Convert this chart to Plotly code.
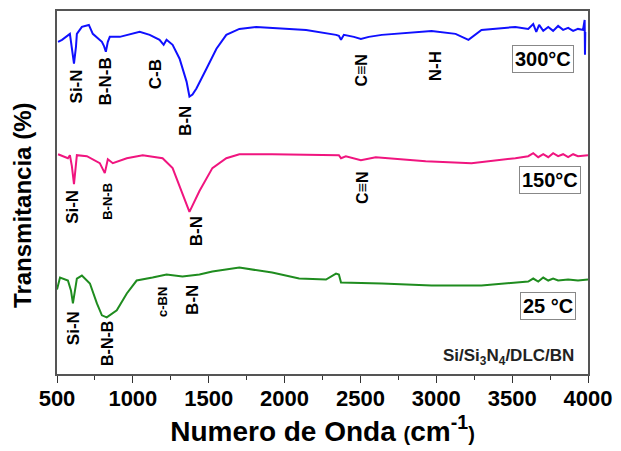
import plotly.graph_objects as go

# ---- data (wavenumber cm^-1, relative transmittance, arbitrary offset units) ----
wn_300 = [507, 533, 585, 598, 612, 625, 631, 664, 710, 736, 796, 809, 822, 835, 848, 914,
          1045, 1111, 1176, 1203, 1222, 1262, 1308, 1354, 1373, 1393, 1419, 1485, 1551, 1616,
          1702, 1813, 2142, 2339, 2358, 2372, 2391, 2457, 2503, 2555, 2641, 2969, 3127, 3212,
          3298, 3521, 3606, 3639, 3659, 3678, 3705, 3738, 3770, 3803, 3836, 3869, 3902, 3934,
          3967, 3978, 3980, 3982]
t_300 = [334, 336, 342, 329, 312, 329, 342, 349, 351, 342, 334, 330, 324, 334, 339, 339,
         344, 341, 336, 331, 336, 331, 317, 294, 279, 281, 287, 307, 327, 341,
         347, 349, 346, 341, 340, 336, 341, 339, 337, 339, 341, 345, 342, 336,
         346, 349, 347, 352, 344, 351, 345, 349, 345, 350, 346, 348, 345, 347,
         346, 356, 321, 344]

wn_150 = [507, 572, 585, 598, 612, 625, 631, 697, 782, 815, 835, 868, 960, 1065, 1196, 1262,
          1327, 1373, 1439, 1524, 1616, 1702, 1918, 2358, 2372, 2404, 2503, 2601, 2930, 3232,
          3521, 3606, 3639, 3672, 3705, 3738, 3770, 3803, 3836, 3869, 3902, 3934, 4000]
t_150 = [221, 217, 220, 209, 191, 209, 220, 219, 212, 202, 216, 212, 217, 220, 217, 207,
         181, 163, 184, 207, 217, 221, 221, 220, 217, 219, 215, 218, 214, 212,
         217, 219, 222, 218, 221, 218, 222, 219, 221, 218, 221, 219, 220]

wn_25 = [500, 520, 572, 592, 605, 618, 631, 664, 717, 763, 796, 828, 894, 960, 1025, 1130,
         1222, 1327, 1439, 1524, 1702, 1918, 2096, 2273, 2306, 2339, 2358, 2372, 2641, 2969,
         3298, 3521, 3606, 3639, 3672, 3705, 3738, 3770, 3803, 3869, 3934, 4000]
t_25 = [85, 97, 94, 84, 71, 82, 96, 99, 91, 71, 59, 57, 64, 81, 94, 97,
        100, 98, 100, 103, 107, 102, 96, 95, 98, 101, 100, 92, 91, 89,
        89, 92, 93, 96, 93, 97, 94, 96, 94, 95, 94, 95]

x_ticks = [500, 1000, 1500, 2000, 2500, 3000, 3500, 4000]

# band labels: (text, wavenumber, y, font size)
labels_300 = [("Si-N", 631, 289, 17), ("B-N-B", 822, 294, 17), ("C-B", 1150, 301, 17),
              ("B-N", 1347, 254, 17), ("C\u2261N", 2510, 305, 16), ("N-H", 2995, 309, 17)]
labels_150 = [("Si-N", 605, 168, 17), ("B-N-B", 835, 174, 13), ("B-N", 1419, 144, 17),
              ("C\u2261N", 2510, 187, 16)]
labels_25 = [("Si-N", 605, 46, 17), ("B-N-B", 828, 31, 16), ("c-BN", 1196, 72, 13),
             ("B-N", 1393, 75, 17)]

temps = [("300°C", 3705, 317), ("150°C", 3751, 195), ("25 °C", 3734, 68)]

FONT = "Liberation Sans, Arial, sans-serif"

fig = go.Figure()
fig.add_trace(go.Scatter(x=wn_300, y=t_300, mode="lines", line=dict(color="#1010ff", width=2)))
fig.add_trace(go.Scatter(x=wn_150, y=t_150, mode="lines", line=dict(color="#f0157f", width=2)))
fig.add_trace(go.Scatter(x=wn_25, y=t_25, mode="lines", line=dict(color="#1f8c1f", width=2)))

anns = []
for group in (labels_300, labels_150, labels_25):
    for txt, x, y, s in group:
        anns.append(dict(x=x, y=y, text=txt, textangle=-90, showarrow=False,
                         xanchor="center", yanchor="middle",
                         font=dict(family=FONT, size=s, color="black", weight="bold")))

for txt, x, y in temps:
    anns.append(dict(x=x, y=y, text=txt, showarrow=False, bordercolor="#888888",
                     borderwidth=1, borderpad=2, bgcolor="white",
                     font=dict(family=FONT, size=20, color="black", weight="bold")))

anns.append(dict(x=3921, y=17, xanchor="right", text="Si/Si<sub>3</sub>N<sub>4</sub>/DLC/BN",
                 showarrow=False, font=dict(family=FONT, size=17, color="#222222", weight="bold")))

anns.append(dict(xref="paper", yref="paper", x=0, y=0.463, xshift=-34, textangle=-90,
                 xanchor="center", yanchor="middle",
                 text="Transmitancia (%)", showarrow=False,
                 font=dict(family=FONT, size=24, color="black", weight="bold")))

fig.update_layout(
    width=621, height=451,
    margin=dict(l=57, r=31, t=9, b=77),
    paper_bgcolor="white", plot_bgcolor="white",
    showlegend=False,
    annotations=anns,
    xaxis=dict(range=[500, 4000], tickvals=x_ticks, ticks="outside", ticklen=7,
               tickwidth=1.2, tickcolor="#333333", ticklabelstandoff=-3,
               minor=dict(dtick=250, ticks="outside", ticklen=4, tickcolor="#333333"),
               showline=True, linecolor="#555555", linewidth=1.5, mirror=True,
               showgrid=False, zeroline=False,
               tickfont=dict(family=FONT, size=22, color="black", weight="bold"),
               title=dict(text="Numero de Onda <span style='font-size:20px'>(</span>cm<sup>-1</sup><span style='font-size:20px'>)</span>",
                          standoff=4,
                          font=dict(family=FONT, size=28, color="black", weight="bold"))),
    yaxis=dict(range=[0, 365], showticklabels=False, ticks="", showline=True,
               linecolor="#555555", linewidth=1.5, mirror=True, showgrid=False, zeroline=False),
)

fig.write_html("out.html")
